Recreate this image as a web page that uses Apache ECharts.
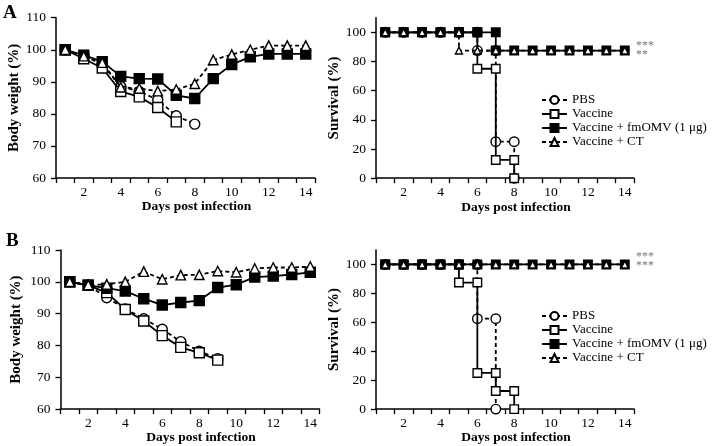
<!DOCTYPE html>
<html>
<head>
<meta charset="utf-8">
<script src="https://cdn.jsdelivr.net/npm/echarts@6/dist/echarts.min.js"></script>
<style>
html,body{margin:0;padding:0;background:#fff;}
#chart{width:713px;height:446px;}
</style>
</head>
<body>
<div id="chart"></div>
<script>
// ---------- Data ----------
const seriesNames = ['PBS', 'Vaccine', 'Vaccine + fmOMV (1 μg)', 'Vaccine + CT'];
const days = [1, 2, 3, 4, 5, 6, 7, 8, 9, 10, 11, 12, 13, 14];
const xTickValues = [0.5, 1.5, 2.5, 3.5, 4.5, 5.5, 6.5, 7.5, 8.5, 9.5, 10.5, 11.5, 12.5, 13.5, 14.5];
const xLabelValues = [2, 4, 6, 8, 10, 12, 14];
const survivalLabelValues = [0, 20, 40, 60, 80, 100];

// Panel A - body weight (%)
const weightA_pbs     = [100, 98, 95.5, 88.5, 87, 84.4, 79.4, 76.8];
const weightA_vaccine = [100, 97.2, 94.3, 87, 85.3, 82, 77.5];
const weightA_fmomv   = [100, 98.3, 96.3, 91.7, 91, 90.9, 85.8, 84.8, 91, 95.4, 97.8, 98.7, 98.7, 98.7];
const weightA_ct      = [100, 98, 96, 88.3, 87.9, 87.1, 87.6, 89.4, 96.8, 98.5, 100, 101.3, 101.3, 101.3];

// Panel B - body weight (%)
const weightB_pbs     = [100, 99, 95, 91.5, 88.4, 85.1, 81.2, 78.2, 75.8];
const weightB_vaccine = [100, 98.9, 96.6, 91.3, 87.7, 83.1, 79.4, 77.7, 75.4];
const weightB_fmomv   = [100, 98.9, 98, 97.1, 94.7, 92.7, 93.5, 94.1, 98.2, 99.1, 101.5, 101.8, 102.3, 103];
const weightB_ct      = [100, 99, 99.2, 100, 103.2, 100.8, 102.1, 102.2, 103.4, 103, 104.2, 104.5, 104.5, 104.8];

// Panel A - survival (%) step curves
const survA_pbs_days     = [1, 2, 3, 4, 5, 6, 6, 7, 7, 8, 8];
const survA_pbs          = [100, 100, 100, 100, 100, 100, 87.5, 87.5, 25, 25, 0];
const survA_vaccine_days = [1, 2, 3, 4, 5, 6, 6, 7, 7, 8, 8];
const survA_vaccine      = [100, 100, 100, 100, 100, 100, 75, 75, 12.5, 12.5, 0];
const survA_fmomv_days   = [1, 2, 3, 4, 5, 6, 7, 7, 8, 9, 10, 11, 12, 13, 14];
const survA_fmomv        = [100, 100, 100, 100, 100, 100, 100, 87.5, 87.5, 87.5, 87.5, 87.5, 87.5, 87.5, 87.5];
const survA_ct_days      = [1, 2, 3, 4, 5, 5, 6, 7, 8, 9, 10, 11, 12, 13, 14];
const survA_ct           = [100, 100, 100, 100, 100, 87.5, 87.5, 87.5, 87.5, 87.5, 87.5, 87.5, 87.5, 87.5, 87.5];

// Panel B - survival (%) step curves
const survB_pbs_days     = [1, 2, 3, 4, 5, 6, 6, 7, 7];
const survB_pbs          = [100, 100, 100, 100, 100, 100, 62.5, 62.5, 0];
const survB_vaccine_days = [1, 2, 3, 4, 5, 5, 6, 6, 7, 7, 8, 8];
const survB_vaccine      = [100, 100, 100, 100, 100, 87.5, 87.5, 25, 25, 12.5, 12.5, 0];
const survB_fmomv_days   = [1, 2, 3, 4, 5, 6, 7, 8, 9, 10, 11, 12, 13, 14];
const survB_fmomv        = [100, 100, 100, 100, 100, 100, 100, 100, 100, 100, 100, 100, 100, 100];
const survB_ct_days      = [1, 2, 3, 4, 5, 6, 7, 8, 9, 10, 11, 12, 13, 14];
const survB_ct           = [100, 100, 100, 100, 100, 100, 100, 100, 100, 100, 100, 100, 100, 100];

const sigA = ['***', '**'];
const sigB = ['***', '***'];

// ---------- Styling ----------
const FONT = '"Liberation Serif", "Times New Roman", serif';
const styles = [
  { symbol: 'circle',   fill: '#fff', dash: [4, 3] },
  { symbol: 'rect',     fill: '#fff', dash: 'solid' },
  { symbol: 'rect',     fill: '#000', dash: 'solid' },
  { symbol: 'triangle', fill: '#fff', dash: [4, 3] }
];

function pairs(xs, ys) { return ys.map((v, i) => [xs[i], v]); }

function makeSeries(idx, data, axisIdx, big) {
  const st = styles[idx];
  let size = big ? 10 : 8.5;
  if (st.symbol === 'triangle') size = big ? 9.5 : 7;
  if (st.symbol === 'circle') size = big ? 10 : 9.5;
  return {
    name: seriesNames[idx],
    type: 'line',
    xAxisIndex: axisIdx,
    yAxisIndex: axisIdx,
    data: data,
    symbol: st.symbol,
    symbolSize: size,
    showAllSymbol: true,
    itemStyle: { color: st.fill, borderColor: '#000', borderWidth: 1.4 },
    lineStyle: { color: '#000', width: 1.8, type: st.dash },
    emphasis: { disabled: true },
    z: 2 + idx,
    animation: false
  };
}

function xAxis(gi) {
  return {
    type: 'value', gridIndex: gi, min: 0.5, max: 14.5,
    name: 'Days post infection', nameLocation: 'middle', nameGap: 20,
    nameTextStyle: { fontFamily: FONT, fontWeight: 'bold', fontSize: 13.5, color: '#000', padding: [0, 0, 0, 22] },
    axisLine: { lineStyle: { color: '#000', width: 1.5 } },
    axisTick: { customValues: xTickValues, length: 5, lineStyle: { color: '#000', width: 1.3 } },
    axisLabel: { customValues: xLabelValues, fontFamily: FONT, fontSize: 13.5, color: '#000', margin: 7 },
    splitLine: { show: false }
  };
}

function yWeight(gi, gap) {
  return {
    type: 'value', gridIndex: gi, min: 60, max: 110, interval: 10,
    name: 'Body weight (%)', nameLocation: 'middle', nameGap: gap, nameRotate: 90,
    nameTextStyle: { fontFamily: FONT, fontWeight: 'bold', fontSize: 15, color: '#000' },
    axisLine: { show: true, lineStyle: { color: '#000', width: 1.5 } },
    axisTick: { show: true, length: 5, lineStyle: { color: '#000', width: 1.3 } },
    axisLabel: { fontFamily: FONT, fontSize: 13.5, color: '#000', margin: 10 },
    splitLine: { show: false }
  };
}

function ySurv(gi) {
  return {
    type: 'value', gridIndex: gi, min: 0, max: 110,
    name: 'Survival (%)', nameLocation: 'middle', nameGap: 33, nameRotate: 90,
    nameTextStyle: { fontFamily: FONT, fontWeight: 'bold', fontSize: 15, color: '#000' },
    axisLine: { show: true, lineStyle: { color: '#000', width: 1.5 } },
    axisTick: { show: true, customValues: survivalLabelValues, length: 5, lineStyle: { color: '#000', width: 1.3 } },
    axisLabel: { customValues: survivalLabelValues, fontFamily: FONT, fontSize: 13.5, color: '#000', margin: 10 },
    splitLine: { show: false }
  };
}

function legend(top) {
  return {
    data: seriesNames,
    orient: 'vertical',
    left: 536, top: top,
    itemWidth: 25, itemHeight: 10, itemGap: 0,
    selectedMode: false,
    textStyle: { fontFamily: FONT, fontSize: 13, color: '#000', lineHeight: 14 }
  };
}

const chart = echarts.init(document.getElementById('chart'), null, { renderer: 'canvas' });

const option = {
  backgroundColor: '#fff',
  animation: false,
  grid: [
    { left: 56, top: 17.7, width: 259, height: 160.3 },
    { left: 376, top: 17.7, width: 258, height: 160.5 },
    { left: 60.5, top: 250, width: 259, height: 160.5 },
    { left: 376, top: 250, width: 258, height: 160.3 }
  ],
  xAxis: [xAxis(0), xAxis(1), xAxis(2), xAxis(3)],
  yAxis: [yWeight(0, 33), ySurv(1), yWeight(2, 37), ySurv(3)],
  legend: [legend(88), legend(304)],
  series: [
    makeSeries(0, pairs(days, weightA_pbs), 0, true),
    makeSeries(1, pairs(days, weightA_vaccine), 0, true),
    makeSeries(2, pairs(days, weightA_fmomv), 0, true),
    makeSeries(3, pairs(days, weightA_ct), 0, true),

    makeSeries(0, pairs(survA_pbs_days, survA_pbs), 1, false),
    makeSeries(1, pairs(survA_vaccine_days, survA_vaccine), 1, false),
    makeSeries(2, pairs(survA_fmomv_days, survA_fmomv), 1, false),
    makeSeries(3, pairs(survA_ct_days, survA_ct), 1, false),

    makeSeries(0, pairs(days, weightB_pbs), 2, true),
    makeSeries(1, pairs(days, weightB_vaccine), 2, true),
    makeSeries(2, pairs(days, weightB_fmomv), 2, true),
    makeSeries(3, pairs(days, weightB_ct), 2, true),

    makeSeries(0, pairs(survB_pbs_days, survB_pbs), 3, false),
    makeSeries(1, pairs(survB_vaccine_days, survB_vaccine), 3, false),
    makeSeries(2, pairs(survB_fmomv_days, survB_fmomv), 3, false),
    makeSeries(3, pairs(survB_ct_days, survB_ct), 3, false)
  ],
  graphic: [
    { type: 'text', left: 3, top: 4, style: { text: 'A', font: 'bold 19px ' + FONT, fill: '#000' } },
    { type: 'text', left: 6, top: 232, style: { text: 'B', font: 'bold 19px ' + FONT, fill: '#000' } },
    { type: 'text', left: 636, top: 40, style: { text: sigA[0], font: '12px ' + FONT, fill: '#777' } },
    { type: 'text', left: 636, top: 49, style: { text: sigA[1], font: '12px ' + FONT, fill: '#777' } },
    { type: 'text', left: 636, top: 251, style: { text: sigB[0], font: '12px ' + FONT, fill: '#777' } },
    { type: 'text', left: 636, top: 260, style: { text: sigB[1], font: '12px ' + FONT, fill: '#777' } }
  ]
};
chart.setOption(option);
</script>
</body>
</html>
